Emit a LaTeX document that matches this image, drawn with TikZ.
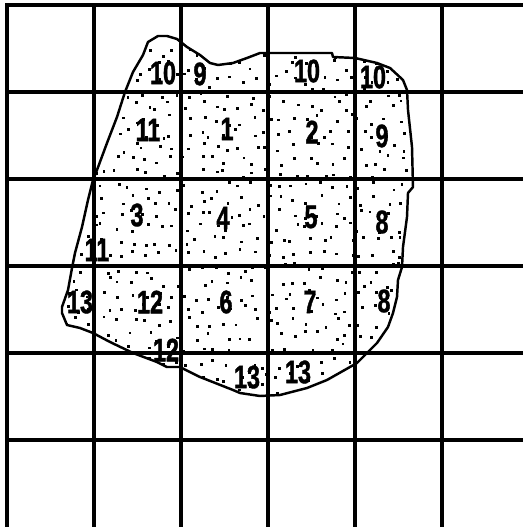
\documentclass[tikz,border=0pt]{standalone}
\usepackage{fontspec}
\newfontfamily\numfont[FakeStretch=0.72,FakeBold=1.2]{Liberation Sans Bold}
\usepackage{tikz}
\usetikzlibrary{positioning}

\begin{document}
\begin{tikzpicture}[
          x=0.02cm, y=-0.02cm,
          gridline/.style={line width=2.1pt, line cap=rect},
          outline/.style={line width=1.4pt, line join=round},
          num/.style={font=\numfont\fontsize{18.5}{18.5}\selectfont, inner sep=0pt}
        ]
        \useasboundingbox (0,0) rectangle (523,527);
        \def\blobpath{(148,42) -- (158,36) -- (167,36) -- (177,39) -- (187,47) -- (200,55)
          -- (210,63) -- (218,65) -- (233,63) -- (247,58) -- (260,53) -- (332,53)
          -- (333,57) -- (355,58) -- (377,63) -- (390,68) -- (403,80) -- (407,90)
          -- (408,110) -- (412,147) -- (413,187) -- (408,193) -- (407,217) -- (403,247)
          -- (402,267) -- (398,280) -- (397,297) -- (393,313) -- (388,327) -- (377,343)
          -- (363,357) -- (357,363) -- (327,380) -- (307,388) -- (280,395) -- (260,396)
          -- (240,393) -- (233,390) -- (200,377) -- (180,367) -- (167,367) -- (157,362)
          -- (133,353) -- (110,342) -- (93,333) -- (80,328) -- (67,325) -- (62,313)
          -- (62,307) -- (68,290) -- (72,268) -- (75,253) -- (82,227) -- (88,200)
          -- (93,180) -- (97,170) -- (107,143) -- (117,117) -- (125,92) -- (133,72)
          -- (143,55) -- cycle}

        % stippled fill (jittered)
        \begin{scope}
          \clip \blobpath;
          \pgfmathsetseed{4711}
          \foreach \sx in {58,71.5,...,415}
            \foreach \sy in {32,45.5,...,400} {
              \pgfmathsetmacro{\dx}{\sx+rnd*11}
              \pgfmathsetmacro{\dy}{\sy+rnd*11}
              \fill (\dx,\dy) rectangle ++(2.8,2.8);
            }
        \end{scope}

        % grid
        \foreach \gx in {7,94,181,268,355,442}
          \draw[gridline] (\gx,5) -- (\gx,527);
        \foreach \gy in {5,92,179,266,353,440}
          \draw[gridline] (7,\gy) -- (523,\gy);

        \draw[outline] \blobpath;

        % cell numbers
        \node[num] (top_a) at (163,73) {10};
        \node[num] (top_b) at (200,74) {9};
        \node[num] (top_c) at (307,71) {10};
        \node[num] (top_d) at (373,77) {10};
        \node[num] (lab_11a) at (148,130) {11};
        \node[num] (lab_1) at (227,129) {1};
        \node[num] (lab_2) at (312,132) {2};
        \node[num] (lab_9) at (382,136) {9};
        \node[num] (lab_3) at (137,215) {3};
        \node[num] (lab_4) at (223,218) {4};
        \node[num] (lab_5) at (311,217) {5};
        \node[num] (lab_8a) at (382,222) {8};
        \node[num] (lab_11b) at (97,250) {11};
        \node[num] (lab_13a) at (80,302) {13};
        \node[num] (lab_12a) at (150,302) {12};
        \node[num] (lab_6) at (226,302) {6};
        \node[num] (lab_7) at (310,302) {7};
        \node[num] (lab_8b) at (384,301) {8};
        \node[num] (lab_12b) at (166,350) {12};
        \node[num] (lab_13b) at (247,377) {13};
        \node[num] (lab_13c) at (298,372) {13};
      \end{tikzpicture}
\end{document}
